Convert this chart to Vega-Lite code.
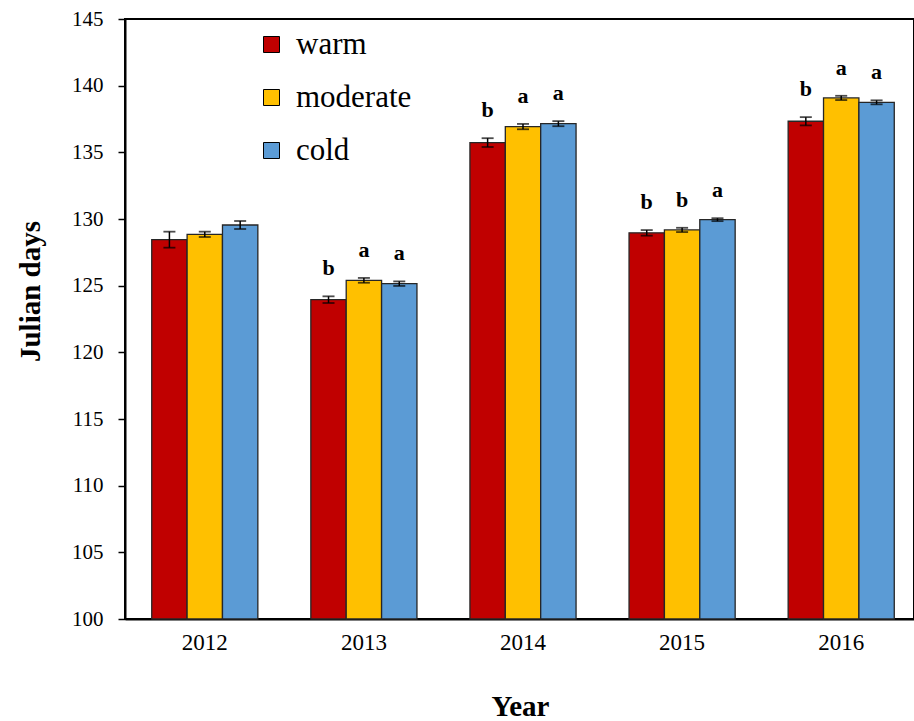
{
  "$schema": "https://vega.github.io/schema/vega-lite/v6.json",
  "autosize": "none",
  "padding": {"left": 125, "top": 19, "right": 0, "bottom": 102},
  "width": 789,
  "height": 600,
  "background": "white",
  "config": {
    "font": "Liberation Serif",
    "view": {"stroke": "black", "strokeWidth": 2},
    "legend": {"padding": 0, "labelFont": "Liberation Serif"},
    "axis": {"labelFont": "Liberation Serif", "titleFont": "Liberation Serif", "labelColor": "black", "titleColor": "black", "domainColor": "black", "tickColor": "black", "grid": false}
  },
  "data": {"values": [
    {"year": "2012", "trt": "warm", "mean": 128.45, "lo": 127.85, "hi": 129.05, "sig": ""},
    {"year": "2012", "trt": "moderate", "mean": 128.85, "lo": 128.65, "hi": 129.05, "sig": ""},
    {"year": "2012", "trt": "cold", "mean": 129.55, "lo": 129.25, "hi": 129.85, "sig": ""},
    {"year": "2013", "trt": "warm", "mean": 123.95, "lo": 123.7, "hi": 124.2, "sig": "b"},
    {"year": "2013", "trt": "moderate", "mean": 125.4, "lo": 125.22, "hi": 125.58, "sig": "a"},
    {"year": "2013", "trt": "cold", "mean": 125.15, "lo": 124.98, "hi": 125.32, "sig": "a"},
    {"year": "2014", "trt": "warm", "mean": 135.73, "lo": 135.4, "hi": 136.06, "sig": "b"},
    {"year": "2014", "trt": "moderate", "mean": 136.93, "lo": 136.73, "hi": 137.13, "sig": "a"},
    {"year": "2014", "trt": "cold", "mean": 137.15, "lo": 136.96, "hi": 137.34, "sig": "a"},
    {"year": "2015", "trt": "warm", "mean": 128.96, "lo": 128.75, "hi": 129.17, "sig": "b"},
    {"year": "2015", "trt": "moderate", "mean": 129.18, "lo": 129.02, "hi": 129.34, "sig": "b"},
    {"year": "2015", "trt": "cold", "mean": 129.95, "lo": 129.84, "hi": 130.06, "sig": "a"},
    {"year": "2016", "trt": "warm", "mean": 137.33, "lo": 137.02, "hi": 137.64, "sig": "b"},
    {"year": "2016", "trt": "moderate", "mean": 139.08, "lo": 138.92, "hi": 139.24, "sig": "a"},
    {"year": "2016", "trt": "cold", "mean": 138.75, "lo": 138.6, "hi": 138.9, "sig": "a"}
  ]},
  "encoding": {
    "x": {
      "field": "year", "type": "nominal",
      "scale": {"range": [0, 796], "paddingInner": 0.333, "paddingOuter": 0.168},
      "axis": {"title": "Year", "labelAngle": 0, "labelFontSize": 23, "labelPadding": 12, "ticks": false, "domainWidth": 2,
               "titleFontSize": 29, "titleFontWeight": "bold", "titleX": 395, "titleY": 87, "titleBaseline": "middle", "titleAnchor": null}
    },
    "xOffset": {"field": "trt", "type": "nominal", "sort": ["warm", "moderate", "cold"], "scale": {"paddingInner": 0, "paddingOuter": 0}}
  },
  "layer": [
    {
      "mark": {"type": "bar", "stroke": "#262626", "strokeWidth": 1.3},
      "encoding": {
        "y": {"field": "mean", "type": "quantitative",
              "scale": {"domain": [100, 145], "zero": false, "nice": false},
              "axis": {"title": "Julian days", "values": [100, 105, 110, 115, 120, 125, 130, 135, 140, 145],
                       "labelFontSize": 21, "tickSize": 7, "tickWidth": 1.5, "domainWidth": 2, "labelPadding": 15,
                       "titleFontSize": 29, "titleFontWeight": "bold", "titleX": -95, "titleY": 272, "titleBaseline": "middle", "titleAngle": -90, "titleAnchor": null}},
        "y2": {"datum": 100},
        "color": {"field": "trt", "type": "nominal",
                  "scale": {"domain": ["warm", "moderate", "cold"], "range": ["#C00000", "#FFC000", "#5B9BD5"]},
                  "legend": {"title": null, "orient": "none", "legendX": 131, "legendY": 10, "padding": 0,
                             "symbolType": "square", "symbolSize": 256, "symbolStrokeColor": "black", "symbolStrokeWidth": 1,
                             "labelFont": "Liberation Serif", "labelFontSize": 31, "labelColor": "black", "labelOffset": 9, "rowPadding": 21}}
      }
    },
    {
      "mark": {"type": "rule", "color": "black", "strokeWidth": 1.5},
      "encoding": {"y": {"field": "lo", "type": "quantitative"}, "y2": {"field": "hi"}}
    },
    {
      "mark": {"type": "tick", "color": "black", "thickness": 1.8, "size": 12},
      "encoding": {"y": {"field": "lo", "type": "quantitative"}}
    },
    {
      "mark": {"type": "tick", "color": "black", "thickness": 1.8, "size": 12},
      "encoding": {"y": {"field": "hi", "type": "quantitative"}}
    },
    {
      "mark": {"type": "text", "font": "Liberation Serif", "fontWeight": "bold", "fontSize": 22, "baseline": "alphabetic", "dy": -21, "color": "black"},
      "encoding": {"y": {"field": "hi", "type": "quantitative"}, "text": {"field": "sig"}}
    }
  ]
}
